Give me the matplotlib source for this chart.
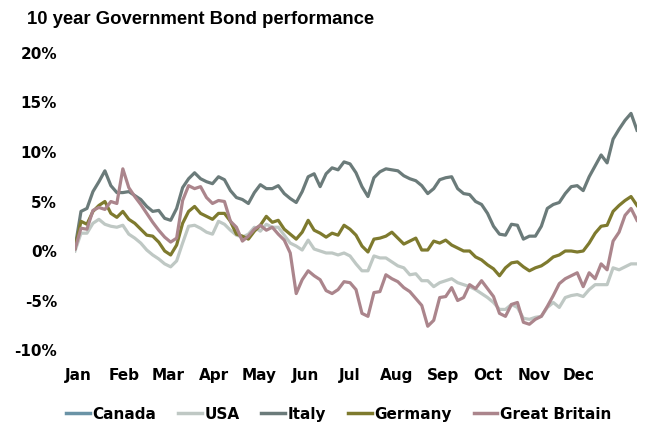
import matplotlib
matplotlib.use("Agg")
import matplotlib.pyplot as plt
import matplotlib.dates as mdates
import pandas as pd
import numpy as np

# x: observation dates (every 4 days, from 30 Dec to ~10 Jan next year)
dates = pd.date_range("2023-12-30", periods=95, freq="4D")

# Values in %
canada = []  # series listed in legend but not visible in the chart

usa = [0.0, 1.8, 1.8, 2.8, 3.2, 2.7, 2.5, 2.4, 2.6, 1.7,
       1.3, 0.8, 0.1, -0.4, -0.8, -1.3, -1.6, -1.0, 0.8, 2.5,
       2.6, 2.3, 1.9, 1.7, 3.0, 2.7, 2.1, 1.6, 1.4, 1.7,
       2.4, 2.0, 2.7, 2.4, 2.4, 1.6, 0.8, 0.5, 0.1, 1.1,
       0.2, 0.0, -0.2, -0.2, -0.4, -0.2, -0.5, -1.3, -2.0, -2.0,
       -0.5, -0.7, -0.7, -1.1, -1.5, -1.7, -2.4, -2.3, -3.0, -3.0,
       -3.6, -3.2, -3.0, -2.8, -3.2, -3.4, -3.6, -3.9, -4.3, -4.7,
       -5.2, -5.9, -5.9, -5.4, -5.7, -6.8, -6.9, -6.7, -6.6, -5.7,
       -5.2, -5.7, -4.7, -4.5, -4.4, -4.6, -3.9, -3.4, -3.4, -3.4,
       -1.7, -1.9, -1.6, -1.3, -1.3]

italy = [0.3, 4.0, 4.3, 6.0, 7.0, 8.1, 6.6, 5.9, 5.9, 6.0,
         5.6, 5.2, 4.5, 4.0, 4.1, 3.3, 3.1, 4.3, 6.4, 7.3,
         7.9, 7.3, 7.0, 6.8, 7.5, 7.2, 6.1, 5.4, 5.2, 4.8,
         5.9, 6.7, 6.3, 6.3, 6.6, 5.8, 5.3, 4.9, 6.0, 7.5,
         7.8, 6.5, 7.8, 8.4, 8.2, 9.0, 8.8, 7.9, 6.5, 5.5,
         7.4, 8.0, 8.3, 8.2, 8.1, 7.6, 7.3, 7.1, 6.6, 5.8,
         6.3, 7.2, 7.4, 7.5, 6.3, 5.8, 5.7, 5.0, 4.7, 3.8,
         2.5, 1.7, 1.6, 2.7, 2.6, 1.2, 1.5, 1.5, 2.5, 4.3,
         4.7, 4.9, 5.8, 6.5, 6.6, 6.1, 7.5, 8.6, 9.7, 8.9,
         11.3, 12.3, 13.2, 13.9, 12.2]

germany = [0.3, 3.0, 2.7, 4.0, 4.6, 5.0, 3.8, 3.4, 4.0, 3.2,
           2.8, 2.2, 1.6, 1.5, 0.9, 0.0, -0.4, 0.6, 2.8, 4.0,
           4.5, 3.8, 3.5, 3.2, 3.8, 3.8, 3.0, 1.7, 1.5, 1.2,
           2.0, 2.6, 3.5, 2.9, 3.1, 2.2, 1.7, 1.2, 1.9, 3.1,
           2.1, 1.8, 1.4, 1.8, 1.6, 2.6, 2.2, 1.6, 0.5, -0.1,
           1.2, 1.3, 1.5, 1.9, 1.3, 0.7, 1.0, 1.3, 0.1, 0.1,
           1.0, 0.8, 1.1, 0.6, 0.3, 0.0, 0.0, -0.6, -0.9, -1.4,
           -1.8, -2.5, -1.7, -1.2, -1.1, -1.6, -2.0, -1.7, -1.5, -1.1,
           -0.6, -0.4, 0.0, 0.0, -0.1, 0.0, 0.8, 1.8, 2.5, 2.6,
           4.0, 4.6, 5.1, 5.5, 4.6]

great_britain = [0.2, 2.3, 2.2, 4.1, 4.4, 4.2, 5.0, 4.8, 8.3, 6.4,
                 5.5, 4.7, 3.8, 2.9, 2.1, 1.4, 0.9, 1.3, 5.1, 6.6,
                 6.3, 6.5, 5.4, 4.8, 5.1, 5.0, 3.0, 2.4, 1.0, 1.5,
                 2.2, 2.6, 2.1, 2.4, 1.7, 1.1, -0.2, -4.3, -2.9, -2.0,
                 -2.5, -2.9, -4.0, -4.3, -3.9, -3.1, -3.2, -3.9, -6.3, -6.6,
                 -4.2, -4.1, -2.4, -2.8, -3.1, -3.7, -4.1, -4.8, -5.5, -7.6,
                 -7.0, -4.7, -4.6, -3.7, -5.0, -4.7, -3.4, -3.8, -3.0, -3.8,
                 -4.6, -6.3, -6.6, -5.4, -5.2, -7.2, -7.4, -6.9, -6.6, -5.6,
                 -4.5, -3.3, -2.8, -2.5, -2.2, -3.6, -2.2, -2.8, -1.3, -1.9,
                 1.0, 1.9, 3.6, 4.3, 3.1]

series_names = ["Canada", "USA", "Italy", "Germany", "Great Britain"]
series_values = [canada, usa, italy, germany, great_britain]
colors = ["#6A93A6", "#BFC8C4", "#6B7B7A", "#7E7A2E", "#AB858C"]

y_ticks = [-10, -5, 0, 5, 10, 15, 20]

fig = plt.figure(figsize=(6.45, 4.23), dpi=100)
ax = fig.add_axes([75/645, 1 - 350/423, (637 - 75)/645, (350 - 53)/423])

for name, vals, col in zip(series_names, series_values, colors):
    ax.plot(dates[:len(vals)], vals, color=col, lw=2.3, label=name,
            solid_joinstyle="round")

ax.set_ylim(-10, 20)
ax.set_xlim(dates[0], dates[-1])
ax.set_yticks(y_ticks)
ax.set_yticklabels([f"{v}%" for v in y_ticks])
ax.xaxis.set_major_locator(mdates.MonthLocator())
ax.xaxis.set_major_formatter(mdates.DateFormatter("%b"))
ax.set_xticks([d for d in ax.get_xticks() if mdates.num2date(d).year == 2024])

for s in ax.spines.values():
    s.set_visible(False)
ax.tick_params(axis="both", length=0, labelsize=11)
ax.tick_params(axis="y", pad=13)
ax.tick_params(axis="x", pad=13)
for lab in ax.get_xticklabels() + ax.get_yticklabels():
    lab.set_fontweight("bold")
    lab.set_family("DejaVu Sans")

fig.text(27/645, 1 - 19/423, "10 year Government Bond performance",
         fontsize=13.3, fontweight="bold", family="Liberation Sans",
         va="center", ha="left")

leg = fig.legend(loc="center", bbox_to_anchor=(0.525, 1 - 414/423), ncol=5,
                 frameon=False, handlelength=1.55, handletextpad=0.15,
                 columnspacing=1.45, prop={"weight": "bold", "size": 11,
                                           "family": "DejaVu Sans"})
for line in leg.get_lines():
    line.set_linewidth(2.5)

fig.savefig("out.png", dpi=100)
